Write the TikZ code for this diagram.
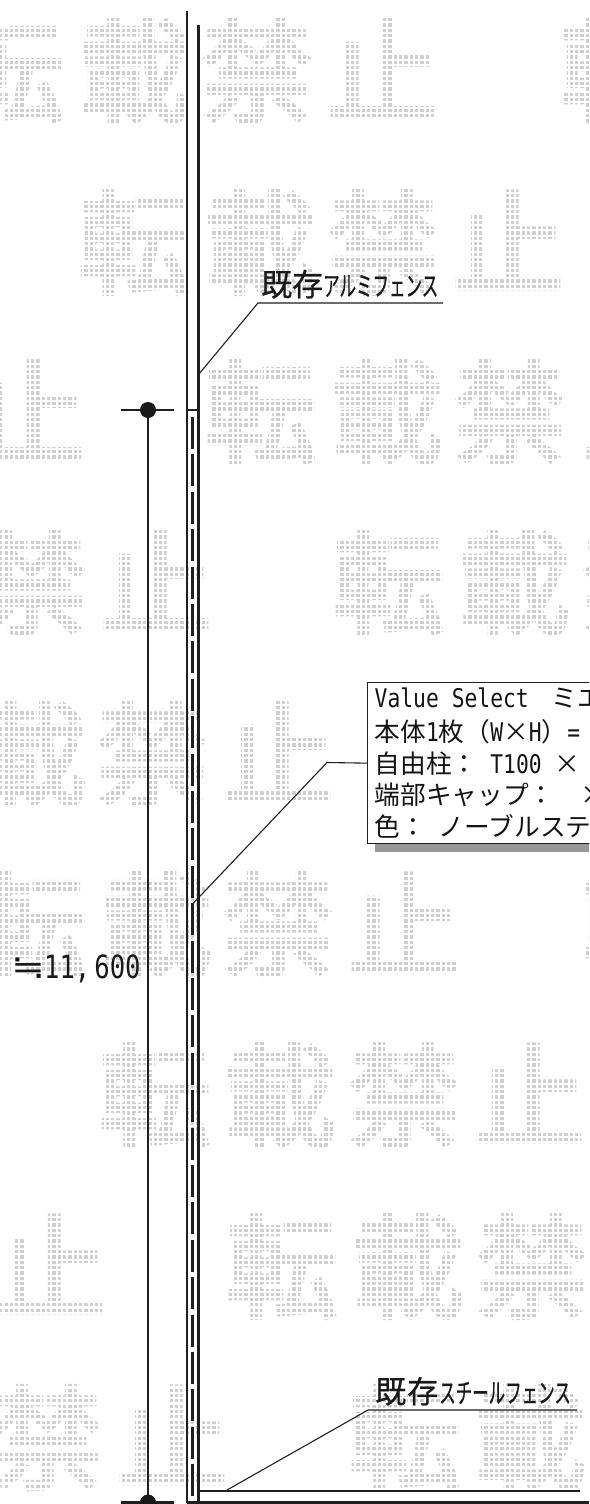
\documentclass[tikz,border=0pt]{standalone}
\usepackage{fontspec}
\newfontfamily\jpf{Noto Sans CJK JP}
\newfontfamily\jpb[FakeBold=0.6]{Noto Sans CJK JP}
\newfontfamily\wmf[FakeBold=3.5]{Noto Sans CJK JP}
\newfontfamily\latf[FakeStretch=0.83]{DejaVu Sans Mono}
\newfontfamily\numf[FakeStretch=0.8]{DejaVu Sans Mono}
\newfontfamily\symf{DejaVu Sans}
\newcommand{\hsp}{\hspace{12.85pt}}
\newcommand{\fsp}{\hspace{25.7pt}}
\newcommand{\lt}[1]{{\latf #1}}
\newcommand{\tms}{\makebox[25.7pt][c]{×}}
\newcommand{\nar}[1]{\scalebox{0.6}[1]{\fontsize{27.5}{30}\selectfont #1}}
\tikzset{
  wm/.style={inner sep=0pt,text=black!19,text height=98pt,text depth=14pt,
    font={\wmf\fontsize{112}{112}\selectfont}},
  grid line/.style={white,line width=2.2pt},
  heavy/.style={draw=black!88,line width=2.9pt},
  thin line/.style={draw=black!88,line width=1.1pt},
  boxline/.style={inner sep=0pt,anchor=base west,text=black!92,
    font={\jpf\fontsize{25.7}{30}\selectfont}},
  big label/.style={inner sep=0pt,anchor=base west,text=black!90,
    font={\jpb\fontsize{25}{30}\selectfont}},
}
\begin{document}
\begin{tikzpicture}[x=1pt,y=-1pt]
\clip (0,0) rectangle (589,1504);
\fill[white] (0,0) rectangle (589,1504);
% watermark
\foreach \c/\px/\py [count=\i] in {
 転/8/71,載/134/71,禁/257/71,止/383/71,転/616/71,
 転/134/243,載/260/243,禁/383/243,止/508/243,
 止/29/412,転/261/412,載/387/412,禁/510/412,止/639/412,
 禁/31/583,止/156/583,転/389/583,載/514/583,禁/638/583,
 載/31/754,禁/152/754,止/278/754,
 転/31/925,載/156/925,禁/278/925,止/404/925,転/638/925,
 転/155/1096,載/280/1096,禁/404/1096,止/529/1096,
 止/50/1267,転/282/1267,載/408/1267,禁/532/1267,
 禁/47/1438,止/172/1438,転/405/1438,載/530/1438}
  \node[wm] (w\i) at (\px,\py) {\c};
\foreach \k in {0,...,111}
  \draw[grid line] ({3.4+\k*5.333},0) -- ({3.4+\k*5.333},1504);
\foreach \k in {0,...,283}
  \draw[grid line] (0,{1+\k*5.333}) -- (589,{1+\k*5.333});
% coordinates
\coordinate (ltop) at (187,11);
\coordinate (lbot) at (187,1503);
\coordinate (rtop) at (198.5,25);
\coordinate (rbot) at (198.5,1503);
\coordinate (cl) at (187,410);
\coordinate (cr) at (198.5,410);
\coordinate (ctop) at (192.3,417);
\coordinate (cbot) at (192.3,1503);
\coordinate (bl) at (187,1502.5);
\coordinate (br) at (589,1502.5);
\coordinate (sl) at (198.5,1491);
\coordinate (sr) at (580,1491);
% fence
\draw[heavy] (ltop) -- (lbot);
\draw[heavy] (rtop) -- (rbot);
\draw[heavy] (cl) -- (cr);
\draw[heavy] (bl) -- (br);
\draw[heavy] (sl) -- (sr);
\draw[draw=black!88,line width=2.6pt,dash pattern=on 32pt off 5.4pt] (ctop) -- (cbot);
% dimension
\coordinate (dt) at (148,410);
\coordinate (db) at (148,1502.5);
\coordinate (dtl) at (121,410);
\coordinate (dtr) at (174,410);
\coordinate (dbl) at (121,1502.5);
\coordinate (dbr) at (174,1502.5);
\draw[heavy] (dt) -- (db);
\draw[heavy] (dtl) -- (dtr);
\draw[heavy] (dbl) -- (dbr);
\fill[black!90] (dt) circle (8);
\fill[black!90] (db) circle (8);
\node[inner sep=0pt,anchor=base west,text=black!90,font={\symf\fontsize{30}{34}\selectfont}] (dimtext) at (11,978)
  {\scalebox{1.35}[1.1]{≒}\hspace{-1pt}{\numf\fontsize{32}{34}\selectfont 11,\hspace{4pt}600}};
% leader 1
\node[big label] (alu) at (261,296) {{\fontsize{31}{30}\selectfont 既存}\nar{アルミフェンス}};
\coordinate (a0) at (199,374);
\coordinate (a1) at (258,303);
\coordinate (a2) at (443,303);
\draw[thin line] (a0) -- (a1) -- (a2);
% leader 3
\node[big label] (stl) at (375,1403) {{\fontsize{31}{30}\selectfont 既\hspace{1pt}存}\hspace{1pt}\nar{スチールフェンス}};
\coordinate (s0) at (227,1490);
\coordinate (s1) at (368,1410);
\coordinate (s2) at (577,1410);
\draw[thin line] (s0) -- (s1) -- (s2);
% callout box
\fill[black!40] (375,843) rectangle (600,852);
\node[draw=black!88,line width=1.3pt,fill=white,inner sep=0pt,anchor=north west,
  minimum width=300pt,minimum height=161pt] (vsbox) at (367,682) {};
\coordinate (v0) at (193.5,903);
\coordinate (v1) at (327,762.5);
\draw[thin line] (v0) -- (v1) -- (vsbox.west);
\node[boxline] (l1) at (374.5,707) {\lt{Value\hsp Select}\hspace{22.5pt}ミエ};
\node[boxline] (l2) at (374.5,741) {本体\lt{1}枚（\lt{W}\tms\lt{H}）\lt{=}};
\node[boxline] (l3) at (374.5,773) {自由柱：\hsp\lt{T100}\hsp\tms};
\node[boxline] (l4) at (374.5,804) {端部キャップ：\fsp\tms};
\node[boxline] (l5) at (374.5,836) {色：\hsp ノーブルステ};
\end{tikzpicture}
\end{document}
